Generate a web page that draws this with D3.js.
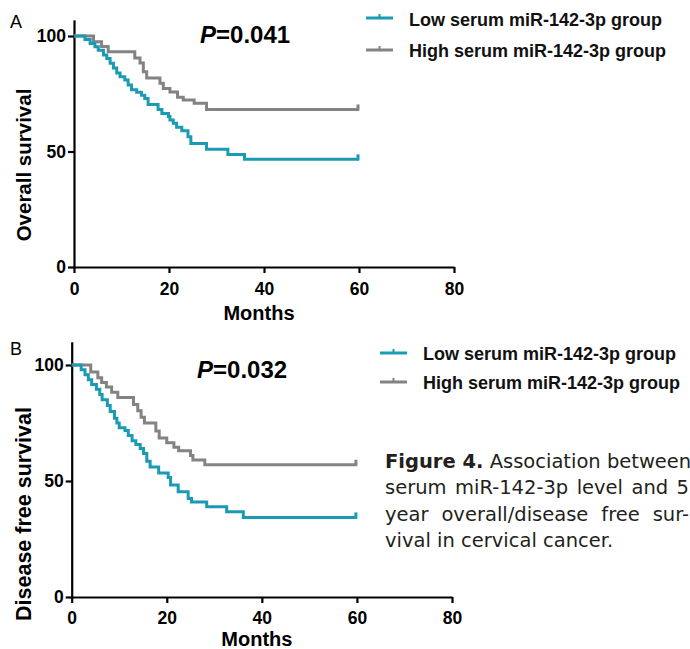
<!DOCTYPE html>
<html>
<head>
<meta charset="utf-8">
<script src="https://cdn.jsdelivr.net/npm/d3@7"></script>
<style>
  body { margin: 0; background: #fff; }
  #wrap { position: relative; width: 690px; height: 649px; }
  svg text { font-family: "Liberation Sans", Arial, sans-serif; }
  .caption { position: absolute; left: 385px; top: 449px; width: 304px;
             font-family: "DejaVu Sans", sans-serif; font-size: 19.5px;
             line-height: 26.3px; color: #231f20; }
  .caption div { text-align: justify; text-align-last: justify; white-space: nowrap; }
  .caption div.last { text-align-last: left; }
</style>
</head>
<body>
<div id="wrap"></div>
<script>
// x ticks / y ticks
const monthTicks = [0, 20, 40, 60, 80];
const survTicks = [0, 50, 100];
const groups = ["Low serum miR-142-3p group", "High serum miR-142-3p group"];
const pValues = ["0.041", "0.032"];

// A: overall survival, low serum group (months, % surviving)
const osLowTime = [0, 2.3, 3.4, 4.4, 5.1, 6.2, 6.9, 7.6, 8.3, 9.0, 9.7, 10.7, 11.4, 12.1, 13.2, 14.2, 14.9, 15.6, 17.7, 18.5, 19.9, 20.2, 20.9, 21.6, 22.7, 24.0, 24.6, 27.9, 32.4, 35.9, 60];
const osLowSurv = [100, 98.5, 96.8, 95.3, 93.8, 91.8, 90.3, 88.2, 86.1, 84.0, 82.4, 81.0, 78.8, 76.7, 75.6, 74.3, 72.9, 70.4, 68.2, 66.5, 65.2, 63.6, 62.2, 60.5, 59.0, 56.4, 53.5, 51.0, 48.7, 46.6, 46.6];
// A: overall survival, high serum group
const osHighTime = [0, 4.1, 5.8, 7.2, 12.8, 13.9, 14.6, 15.3, 18.1, 18.8, 20.2, 21.8, 23.0, 25.3, 27.9, 60];
const osHighSurv = [100, 97.5, 95.5, 93.2, 90.5, 88.3, 84.5, 81.8, 79.5, 77.3, 75.8, 73.5, 72.3, 70.9, 68.2, 68.2];

// B: disease free survival, low serum group
const dfsLowTime = [0, 2.0, 2.8, 3.5, 4.2, 5.2, 5.9, 6.4, 7.5, 8.1, 9.0, 9.5, 10.0, 11.2, 11.9, 12.7, 13.5, 14.4, 15.1, 15.8, 16.5, 18.3, 20.3, 20.8, 22.4, 24.5, 25.2, 28.4, 32.6, 36.1, 60];
const dfsLowSurv = [100, 98.0, 95.8, 93.6, 91.6, 89.6, 87.3, 85.0, 82.5, 80.0, 77.0, 75.0, 73.0, 71.8, 69.6, 67.4, 65.7, 64.0, 61.8, 58.5, 56.0, 53.5, 51.5, 48.3, 45.4, 42.5, 41.0, 38.9, 36.7, 34.3, 34.3];
// B: disease free survival, high serum group
const dfsHighTime = [0, 4.0, 5.5, 6.3, 7.3, 8.4, 9.7, 13.0, 13.9, 14.6, 15.3, 17.7, 18.4, 20.0, 21.5, 22.5, 25.0, 25.5, 28.0, 60];
const dfsHighSurv = [100, 97.0, 94.5, 92.5, 90.5, 88.3, 86.0, 83.0, 80.3, 77.5, 75.0, 71.5, 68.5, 66.5, 64.5, 63.0, 61.0, 59.0, 57.0, 57.0];

const colors = ["#1b9ab3", "#838383"];

const zip = (t, s) => t.map((d, i) => [d, s[i]]);

const panels = [
  { letter: "A", letterY: 28, left: 74, right: 454, bottom: 267, top100: 36, yMax: 107,
    ylabel: "Overall survival", ylabelSize: 20.5, ylabelY: 165, monthsY: 320, xPad: 10,
    pX: 200, pY: 43, p: pValues[0],
    legX: 366, legY: [18, 50], legTextY: [26, 57],
    series: [zip(osLowTime, osLowSurv), zip(osHighTime, osHighSurv)] },
  { letter: "B", letterY: 355, left: 71.7, right: 452, bottom: 597, top100: 365, yMax: 110,
    ylabel: "Disease free survival", ylabelSize: 21.5, ylabelY: 514, monthsY: 646, xPad: 8.5,
    pX: 197, pY: 378, p: pValues[1],
    legX: 380, legY: [353, 382], legTextY: [360, 389],
    series: [zip(dfsLowTime, dfsLowSurv), zip(dfsHighTime, dfsHighSurv)] }
];

const svg = d3.select("#wrap").append("svg")
  .attr("width", 690).attr("height", 649)
  .style("position", "absolute").style("left", 0).style("top", 0);

panels.forEach(pn => {
  const x = d3.scaleLinear().domain([0, 80]).range([pn.left, pn.right]);
  const pxPer = (pn.bottom - pn.top100) / 100;
  const y = d3.scaleLinear().domain([0, pn.yMax]).range([pn.bottom, pn.bottom - pxPer * pn.yMax]);

  const g = svg.append("g");

  // axes
  const xAxis = g.append("g")
    .attr("transform", `translate(0,${pn.bottom})`)
    .call(d3.axisBottom(x).tickValues(monthTicks).tickSize(6).tickSizeOuter(0).tickPadding(pn.xPad));
  const yAxis = g.append("g")
    .attr("transform", `translate(${pn.left},0)`)
    .call(d3.axisLeft(y).tickValues(survTicks).tickSize(6).tickSizeOuter(0).tickPadding(2));

  [xAxis, yAxis].forEach(a => {
    a.selectAll(".domain, .tick line").attr("stroke", "#000").attr("stroke-width", 2.2);
    a.selectAll("text").attr("font-size", 17.5).attr("font-weight", "bold")
      .attr("fill", "#000").style("font-family", '"Liberation Sans", Arial, sans-serif');
  });

  // axis titles
  g.append("text")
    .attr("x", (pn.left + x(80)) / 2 - 5)
    .attr("y", pn.monthsY)
    .attr("text-anchor", "middle")
    .attr("font-size", 20).attr("font-weight", "bold")
    .text("Months");

  g.append("text")
    .attr("transform", `translate(31,${pn.ylabelY}) rotate(-90)`)
    .attr("text-anchor", "middle")
    .attr("font-size", pn.ylabelSize).attr("font-weight", "bold")
    .text(pn.ylabel);

  // panel letter
  g.append("text").attr("x", 10).attr("y", pn.letterY)
    .attr("font-size", 18).text(pn.letter);

  // curves
  const line = d3.line()
    .x(d => x(d[0])).y(d => y(d[1]))
    .curve(d3.curveStepAfter);

  // draw high group first so the low group sits on top
  [1, 0].forEach(i => {
    const data = pn.series[i];
    g.append("path")
      .datum(data)
      .attr("d", line)
      .attr("fill", "none")
      .attr("stroke", colors[i])
      .attr("stroke-width", 3);
    // censor mark at the end
    const last = data[data.length - 1];
    g.append("line")
      .attr("x1", x(last[0]) - 1).attr("x2", x(last[0]) - 1)
      .attr("y1", y(last[1]) + 1).attr("y2", y(last[1]) - 5)
      .attr("stroke", colors[i]).attr("stroke-width", 3);
  });

  // P value
  const pt = g.append("text").attr("x", pn.pX).attr("y", pn.pY)
    .attr("font-size", 24).attr("font-weight", "bold");
  pt.append("tspan").attr("font-style", "italic").text("P");
  pt.append("tspan").text("=" + pn.p);

  // legend
  groups.forEach((name, i) => {
    const ly = pn.legY[i];
    g.append("line")
      .attr("x1", pn.legX).attr("x2", pn.legX + 27)
      .attr("y1", ly).attr("y2", ly)
      .attr("stroke", colors[i]).attr("stroke-width", 3);
    g.append("line")
      .attr("x1", pn.legX + 13.5).attr("x2", pn.legX + 13.5)
      .attr("y1", ly).attr("y2", ly - 4)
      .attr("stroke", colors[i]).attr("stroke-width", 2);
    g.append("text")
      .attr("x", pn.legX + 43).attr("y", pn.legTextY[i])
      .attr("font-size", 18).attr("font-weight", "bold")
      .attr("fill", "#111")
      .text(name);
  });
});

// figure caption
const captionLines = [
  "<b>Figure 4.</b> Association between",
  "serum miR-142-3p level and 5",
  "year overall/disease free sur-",
  "vival in cervical cancer."
];
const cap = d3.select("#wrap").append("div").attr("class", "caption");
captionLines.forEach((l, i) => {
  cap.append("div").attr("class", i === captionLines.length - 1 ? "last" : null).html(l);
});
</script>
</body>
</html>
